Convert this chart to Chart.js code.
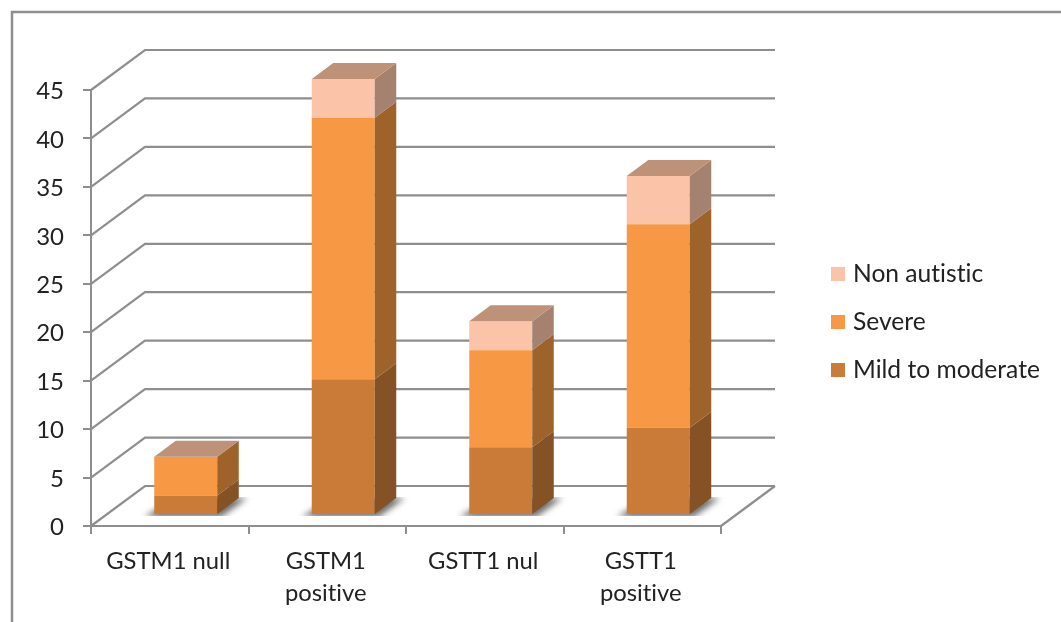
<!DOCTYPE html>
<html>
<head>
<meta charset="utf-8">
<title>Autism severity by genotype</title>
<style>
  html, body { margin: 0; padding: 0; background: #fff; }
  #wrap { width: 1061px; height: 622px; }
</style>
<script src="https://cdn.jsdelivr.net/npm/chart.js@4"></script>
</head>
<body>
<div id="wrap"><canvas id="genotypeChart" width="1061" height="622"></canvas></div>
<script>
const categories = ['GSTM1 null', ['GSTM1', 'positive'], 'GSTT1 nul', ['GSTT1', 'positive']];
const seriesNames = ['Mild to moderate', 'Severe', 'Non autistic'];
const mildValues = [2, 14, 7, 9];
const severeValues = [4, 27, 10, 21];
const nonAutisticValues = [0, 4, 3, 5];

const frontColors = ['#C97B37', '#F79845', '#FBC3A8'];
const sideColors = ['#845224', '#9E622B', '#A58170'];
const topColor = '#BD9279';
const lineColor = '#8E8E8E';
const textColor = '#222222';
const fontName = 'Lato';

// depth of the box walls, and how far the bars stand in from the front edge
const wall = { dx: 54, dy: -40 };
const inset = { dx: 16, dy: -11 };
const barDepth = { dx: 21.5, dy: -16 };

function poly(ctx, pts, fill) {
    ctx.beginPath();
    pts.forEach((p, i) => i ? ctx.lineTo(p[0], p[1]) : ctx.moveTo(p[0], p[1]));
    ctx.closePath();
    ctx.fillStyle = fill;
    ctx.fill();
}

const box3d = {
    id: 'box3d',
    beforeDraw(chart) {
        const ctx = chart.ctx;
        // no ti ligatures in the labels
        ctx.textRendering = 'optimizeSpeed';
        // outer frame, runs off the right and bottom of the page
        ctx.save();
        ctx.strokeStyle = lineColor;
        ctx.lineWidth = 2.5;
        ctx.beginPath();
        ctx.moveTo(12, 622);
        ctx.lineTo(12, 12);
        ctx.lineTo(1061, 12);
        ctx.stroke();
        ctx.restore();
    },
    beforeDatasetsDraw(chart) {
        const ctx = chart.ctx;
        const { left, right } = chart.chartArea;
        const y = chart.scales.y;

        ctx.save();
        ctx.strokeStyle = lineColor;
        ctx.lineWidth = 2.2;
        y.ticks.forEach(t => {
            const py = y.getPixelForValue(t.value);
            ctx.beginPath();
            ctx.moveTo(left, py);
            ctx.lineTo(left + wall.dx, py + wall.dy);
            ctx.lineTo(right + wall.dx, py + wall.dy);
            ctx.stroke();
        });
        // right edge of the floor
        const y0 = y.getPixelForValue(0);
        ctx.beginPath();
        ctx.moveTo(right, y0);
        ctx.lineTo(right + wall.dx, y0 + wall.dy);
        ctx.stroke();
        ctx.restore();

        // soft shadows on the floor, cut off along the bar's front edge
        chart.getDatasetMeta(0).data.forEach(bar => {
            const l = bar.x - bar.width / 2 + inset.dx;
            const r = bar.x + bar.width / 2 + inset.dx;
            const b = y0 + inset.dy;
            ctx.save();
            ctx.beginPath();
            ctx.rect(l - 30, b - 18, bar.width + 90, 19);
            ctx.clip();
            ctx.filter = 'blur(3px)';
            poly(ctx, [[l - 10, b + 2], [r + 4, b + 2], [r + 30, b - 17], [l + 21, b - 17]], '#6E6E6E');
            ctx.restore();
        });

        // bars are drawn on the inset plane, restored again afterwards
        ctx.save();
        ctx.translate(inset.dx, inset.dy);
    },
    afterDatasetsDraw(chart) {
        const ctx = chart.ctx;
        ctx.restore();

        const count = chart.data.datasets.length;
        chart.data.datasets.forEach((ds, i) => {
            chart.getDatasetMeta(i).data.forEach(bar => {
                const r = bar.x + bar.width / 2 + inset.dx;
                const l = bar.x - bar.width / 2 + inset.dx;
                const t = bar.y + inset.dy;
                const b = bar.base + inset.dy;
                poly(ctx, [[r, t], [r + barDepth.dx, t + barDepth.dy], [r + barDepth.dx, b + barDepth.dy], [r, b]], sideColors[i]);
                if (i === count - 1) {
                    poly(ctx, [[l, t], [l + barDepth.dx, t + barDepth.dy], [r + barDepth.dx, t + barDepth.dy], [r, t]], topColor);
                }
            });
        });

        // legend, top entry is the last series
        ctx.save();
        ctx.font = '24.6px ' + fontName;
        ctx.textBaseline = 'middle';
        ctx.textAlign = 'left';
        [2, 1, 0].forEach((s, row) => {
            const cy = 274 + row * 48;
            ctx.fillStyle = frontColors[s];
            ctx.fillRect(831, cy - 7, 14, 14);
            ctx.fillStyle = textColor;
            ctx.fillText(seriesNames[s], 853, cy);
        });
        ctx.restore();
    }
};

const seriesValues = [mildValues, severeValues, nonAutisticValues];

new Chart(document.getElementById('genotypeChart').getContext('2d'), {
    type: 'bar',
    data: {
        labels: categories,
        datasets: seriesNames.map((name, i) => ({
            label: name,
            data: seriesValues[i],
            backgroundColor: frontColors[i],
            borderWidth: 0,
            barPercentage: 0.4,
            categoryPercentage: 1
        }))
    },
    options: {
        responsive: false,
        animation: false,
        layout: { padding: { left: 31, top: 90, right: 340, bottom: 16 } },
        plugins: { legend: { display: false }, title: { display: false }, tooltip: { enabled: false } },
        scales: {
            x: {
                stacked: true,
                afterFit: s => { s.height = 80; },
                grid: { drawOnChartArea: false, drawTicks: true, tickLength: 8, color: lineColor, lineWidth: 2, offset: true },
                border: { color: lineColor, width: 2 },
                ticks: { color: textColor, padding: 11, labelOffset: -1.5, maxRotation: 0, font: { family: fontName, size: 23.8, lineHeight: 1.35 } }
            },
            y: {
                stacked: true,
                min: 0,
                max: 45,
                afterFit: s => { s.width = 60; },
                grid: { drawOnChartArea: false, drawTicks: true, tickLength: 8, color: lineColor, lineWidth: 2 },
                border: { color: lineColor, width: 2 },
                ticks: { color: textColor, stepSize: 5, padding: 19, labelOffset: 1.5, font: { family: fontName, size: 24 } }
            }
        }
    },
    plugins: [box3d]
});
</script>
</body>
</html>
